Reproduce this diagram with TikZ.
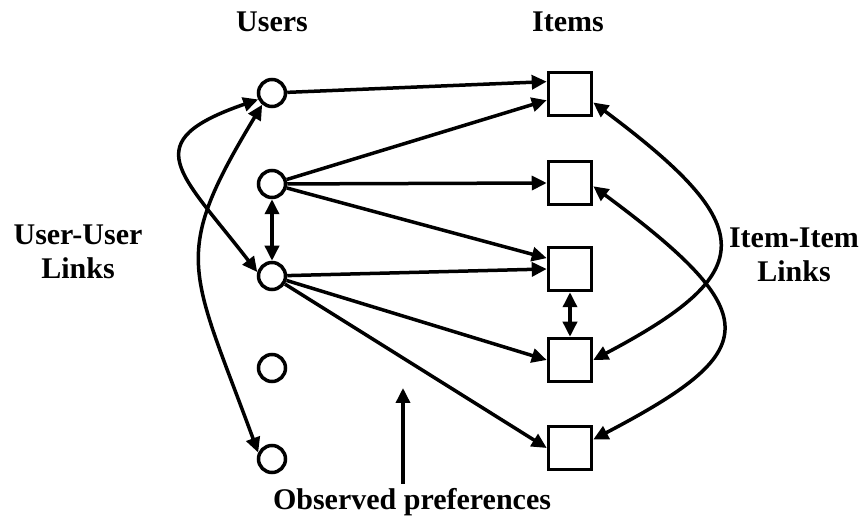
\documentclass[tikz,border=0pt]{standalone}
\usepackage{fontspec}
\setmainfont{Liberation Serif}
\usetikzlibrary{arrows.meta}
\begin{document}
\begin{tikzpicture}[x=1pt,y=1pt,
  user/.style={circle, draw, line width=3.5pt, minimum size=27pt, inner sep=0pt},
  item/.style={rectangle, draw, line width=3.5pt, minimum size=43pt, inner sep=0pt},
  link/.style={line width=3.5pt, -{Triangle[length=15pt,width=14pt]}},
  both/.style={line width=3.5pt, {Triangle[length=15pt,width=14pt]}-{Triangle[length=15pt,width=14pt]}},
  label/.style={font=\fontsize{30}{34}\selectfont\bfseries, align=center, inner sep=0pt}]
\useasboundingbox (0,0) rectangle (863,517);
% users and items
\foreach \n/\y in {1/424,2/333,3/241,4/149,5/58}{
\node[user] (u\n) at (272,\y) {};
}
\foreach \n/\y in {1/423,2/334,3/248,4/157,5/69}{
\node[item] (i\n) at (570,\y) {};
}
\node[label, anchor=base] (users) at (272,485) {Users};
\node[label, anchor=base] (items) at (568,485) {Items};
\node[label] (uulinks) at (78,265) {User-User\\Links};
\node[label] (iilinks) at (794,262) {Item-Item\\Links};
\node[label, anchor=base] (obs) at (412,7) {Observed preferences};
\coordinate (pref) at (403,129);
% observed preferences
\draw[link] (u1) -- (i1.152);
\draw[link] (u2) -- (i1.195);
\draw[link] (u2) -- (i2.west);
\draw[link] (u2) -- (i3.155);
\draw[link] (u3) -- (i3.west);
\draw[link] (u3) -- (i4.west);
\draw[link] (u3) -- (i5.west);
\draw[link] ([shift={(-9pt,5pt)}]obs.north) -- (pref);
% user-user links
\draw[both] (u2) -- (u3);
\draw[both] (u1.205) .. controls (135,375) and (180,345) .. (u3.165);
\draw[both] (u1.230) .. controls (170,260) and (190,250) .. (u5.155);
% item-item links
\draw[both] (i3) -- (i4);
\draw[both] (i1.-20) .. controls (760,290) and (760,245) .. (i4.east);
\draw[both] (i2.-8) .. controls (770,200) and (760,165) .. (i5.20);
\end{tikzpicture}
\end{document}
